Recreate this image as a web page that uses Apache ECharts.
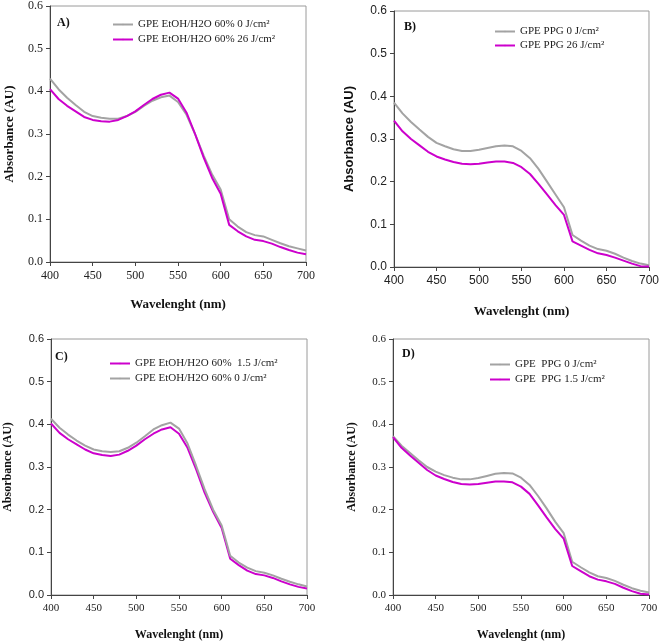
<!DOCTYPE html>
<html>
<head>
<meta charset="utf-8">
<script src="https://cdn.jsdelivr.net/npm/echarts@6/dist/echarts.min.js"></script>
<style>
  html, body { margin: 0; padding: 0; background: #fff; }
  #chart { width: 662px; height: 644px; }
</style>
</head>
<body>
<div id="chart"></div>
<script>
// wavelengths (nm), 10 nm steps
const wavelengths = [400, 410, 420, 430, 440, 450, 460, 470, 480, 490, 500, 510, 520, 530, 540, 550,
  560, 570, 580, 590, 600, 610, 620, 630, 640, 650, 660, 670, 680, 690, 700]

// A) GPE EtOH/H2O 60%
const aZero = [0.430, 0.405, 0.385, 0.368, 0.352, 0.342, 0.338, 0.336, 0.336, 0.342, 0.352, 0.366, 0.378, 0.386, 0.390, 0.375,
  0.345, 0.300, 0.250, 0.205, 0.170, 0.100, 0.083, 0.070, 0.063, 0.060, 0.052, 0.044, 0.037, 0.032, 0.027]
const aHigh = [0.405, 0.382, 0.366, 0.353, 0.340, 0.333, 0.330, 0.329, 0.333, 0.342, 0.353, 0.368, 0.382, 0.392, 0.397, 0.383,
  0.350, 0.300, 0.245, 0.197, 0.160, 0.087, 0.072, 0.060, 0.052, 0.049, 0.043, 0.035, 0.028, 0.022, 0.018]

// B) GPE PPG
const bZero = [0.385, 0.360, 0.340, 0.322, 0.305, 0.291, 0.283, 0.276, 0.272, 0.272, 0.275, 0.279, 0.283, 0.285, 0.283, 0.272,
  0.255, 0.230, 0.200, 0.170, 0.140, 0.075, 0.062, 0.050, 0.042, 0.038, 0.031, 0.022, 0.014, 0.008, 0.004]
const bHigh = [0.343, 0.318, 0.300, 0.285, 0.270, 0.259, 0.252, 0.246, 0.242, 0.241, 0.242, 0.245, 0.247, 0.247, 0.244, 0.234,
  0.218, 0.195, 0.170, 0.145, 0.122, 0.060, 0.050, 0.040, 0.032, 0.028, 0.022, 0.015, 0.008, 0.002, 0.001]

// C) GPE EtOH/H2O 60%
const cLow = [0.402, 0.380, 0.365, 0.353, 0.341, 0.332, 0.328, 0.326, 0.329, 0.338, 0.350, 0.365, 0.378, 0.388, 0.393, 0.378,
  0.345, 0.295, 0.240, 0.195, 0.157, 0.085, 0.070, 0.057, 0.049, 0.046, 0.040, 0.032, 0.025, 0.019, 0.015]
const cZero = [0.413, 0.392, 0.376, 0.362, 0.350, 0.341, 0.337, 0.335, 0.337, 0.345, 0.357, 0.372, 0.388, 0.398, 0.404, 0.390,
  0.355, 0.303, 0.248, 0.200, 0.163, 0.092, 0.076, 0.064, 0.056, 0.052, 0.046, 0.038, 0.031, 0.025, 0.020]

// D) GPE PPG
const dZero = [0.372, 0.350, 0.333, 0.316, 0.300, 0.289, 0.281, 0.275, 0.271, 0.271, 0.274, 0.279, 0.284, 0.286, 0.285, 0.275,
  0.258, 0.232, 0.203, 0.172, 0.145, 0.078, 0.065, 0.053, 0.044, 0.040, 0.033, 0.024, 0.016, 0.010, 0.006]
const dLow = [0.370, 0.345, 0.327, 0.310, 0.293, 0.280, 0.272, 0.265, 0.260, 0.259, 0.260, 0.263, 0.266, 0.266, 0.264, 0.254,
  0.237, 0.210, 0.182, 0.155, 0.132, 0.068, 0.056, 0.044, 0.036, 0.032, 0.026, 0.017, 0.009, 0.003, 0.001]

const yTicks = [0, 0.1, 0.2, 0.3, 0.4, 0.5, 0.6]
const xTicks = [400, 450, 500, 550, 600, 650, 700]

const GRAY = '#a3a3a3'
const MAGENTA = '#cc00cc'
const SERIF = '"Liberation Serif", "DejaVu Serif", serif'
const SANS = '"Liberation Sans", Arial, sans-serif'

const panels = [
  { tag: 'A)', grid: { left: 50, top: 6, width: 256, height: 256 }, yFont: SERIF, xFont: SERIF, labelSize: 12, nameSize: 13,
    yNameFont: SERIF, yGap: 34, xGap: 36, tagPos: [57, 17], legendPos: [112, 19], legendGap: 4,
    series: [['GPE EtOH/H2O 60% 0 J/cm²', aZero, GRAY], ['GPE EtOH/H2O 60% 26 J/cm²', aHigh, MAGENTA]] },
  { tag: 'B)', grid: { left: 394, top: 11, width: 258, height: 256 }, yFont: SANS, xFont: SANS, labelSize: 12, nameSize: 13,
    yNameFont: SANS, yGap: 38, xGap: 38, tagPos: [404, 21], legendPos: [494, 26], legendGap: 3,
    series: [['GPE PPG 0 J/cm²', bZero, GRAY], ['GPE PPG 26 J/cm²', bHigh, MAGENTA]] },
  { tag: 'C)', grid: { left: 51, top: 339, width: 256, height: 256 }, yFont: SANS, xFont: SERIF, labelSize: 11, nameSize: 12,
    yNameFont: SERIF, yGap: 37, xGap: 34, tagPos: [55, 351], legendPos: [109, 358], legendGap: 4,
    series: [['GPE EtOH/H2O 60%  1.5 J/cm²', cLow, MAGENTA], ['GPE EtOH/H2O 60% 0 J/cm²', cZero, GRAY]] },
  { tag: 'D)', grid: { left: 393, top: 339, width: 256, height: 256 }, yFont: SERIF, xFont: SERIF, labelSize: 11, nameSize: 12,
    yNameFont: SERIF, yGap: 35, xGap: 34, tagPos: [402, 348], legendPos: [489, 359], legendGap: 4,
    series: [['GPE  PPG 0 J/cm²', dZero, GRAY], ['GPE  PPG 1.5 J/cm²', dLow, MAGENTA]] }
]

const chart = echarts.init(document.getElementById('chart'), null, { renderer: 'canvas' })

const option = {
  backgroundColor: '#fff',
  animation: false,
  title: [],
  legend: [],
  grid: [],
  xAxis: [],
  yAxis: [],
  series: []
}

panels.forEach((p, i) => {
  option.grid.push(Object.assign({ show: true, borderColor: '#9a9a9a', borderWidth: 1 }, p.grid))
  option.title.push({
    text: p.tag, left: p.tagPos[0], top: p.tagPos[1], padding: 0,
    textStyle: { fontFamily: SERIF, fontWeight: 'bold', fontSize: 12, color: '#111' }
  })
  option.legend.push({
    left: p.legendPos[0], top: p.legendPos[1], orient: 'vertical', padding: 0,
    itemWidth: 20, itemHeight: 2, itemGap: p.legendGap,
    data: p.series.map(s => s[0]),
    textStyle: { fontFamily: SERIF, fontSize: 11, color: '#222' }
  })
  option.xAxis.push({
    type: 'value', gridIndex: i, min: xTicks[0], max: xTicks[xTicks.length - 1], interval: 50,
    name: 'Wavelenght (nm)', nameLocation: 'middle', nameGap: p.xGap,
    nameTextStyle: { fontFamily: SERIF, fontWeight: 'bold', fontSize: p.nameSize, color: '#111' },
    axisLine: { lineStyle: { color: '#444', width: 1 } },
    axisTick: { show: true, length: 4, lineStyle: { color: '#444' } },
    axisLabel: { fontFamily: p.xFont, fontSize: p.labelSize, color: '#222', margin: 8 },
    splitLine: { show: false }
  })
  option.yAxis.push({
    type: 'value', gridIndex: i, min: yTicks[0], max: yTicks[yTicks.length - 1], interval: 0.1,
    name: 'Absorbance (AU)', nameLocation: 'middle', nameGap: p.yGap, nameRotate: 90,
    nameTextStyle: { fontFamily: p.yNameFont, fontWeight: 'bold', fontSize: p.nameSize, color: '#111' },
    axisLine: { show: true, lineStyle: { color: '#444', width: 1 } },
    axisTick: { show: true, length: 4, lineStyle: { color: '#444' } },
    axisLabel: { fontFamily: p.yFont, fontSize: p.labelSize, color: '#222', margin: 7, formatter: v => v.toFixed(1) },
    splitLine: { show: false }
  })
  p.series.forEach(s => {
    option.series.push({
      name: s[0], type: 'line', xAxisIndex: i, yAxisIndex: i,
      symbol: 'none', smooth: false,
      lineStyle: { color: s[2], width: 2 },
      itemStyle: { color: s[2] },
      data: wavelengths.map((w, k) => [w, s[1][k]])
    })
  })
})

chart.setOption(option)
</script>
</body>
</html>
